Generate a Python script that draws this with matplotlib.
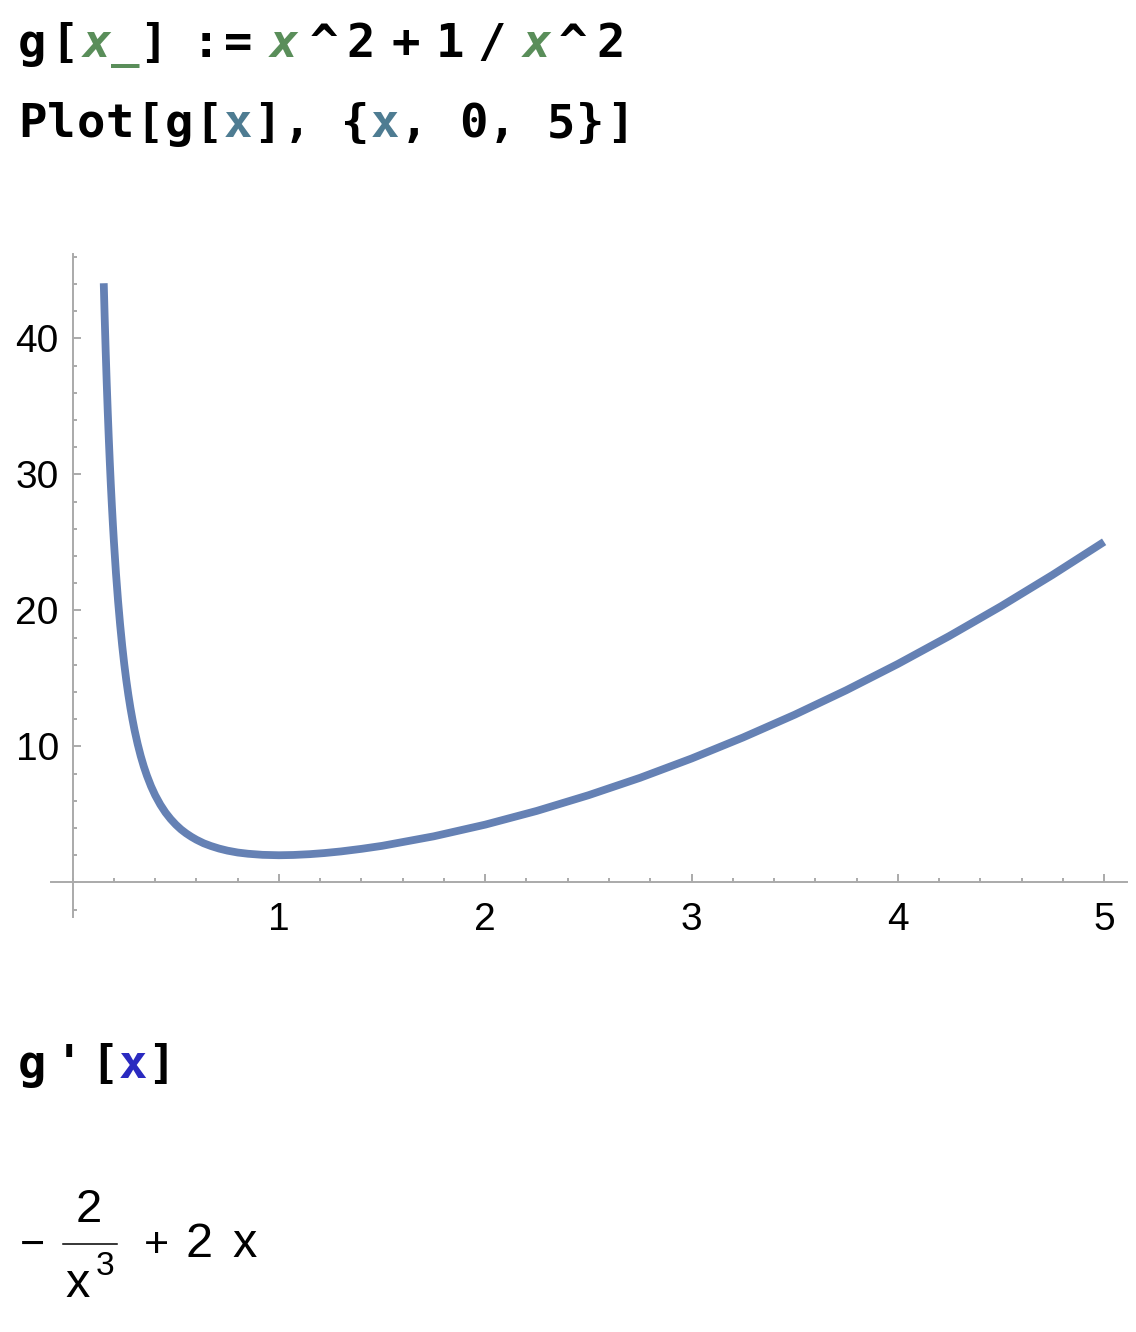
import matplotlib
matplotlib.use("Agg")
import matplotlib.pyplot as plt
from matplotlib.lines import Line2D
from matplotlib.ticker import FixedLocator

W, H = 1136, 1332

X_VALS = [0.1507, 0.155, 0.16, 0.165, 0.17, 0.175, 0.18, 0.185, 0.19, 0.195,
          0.20, 0.21, 0.22, 0.23, 0.24, 0.25, 0.26, 0.27, 0.28, 0.29,
          0.30, 0.315, 0.33, 0.345, 0.36, 0.38, 0.40, 0.425, 0.45, 0.475,
          0.50, 0.525, 0.55, 0.575, 0.60, 0.635, 0.67, 0.71, 0.75, 0.80,
          0.85, 0.92, 1.00, 1.07, 1.15, 1.22, 1.30, 1.40, 1.50, 1.75,
          2.00, 2.25, 2.50, 2.75, 3.00, 3.25, 3.50, 3.75, 4.00, 4.25,
          4.50, 4.75, 5.00]
Y_VALS = [44.05, 41.65, 39.09, 36.76, 34.63, 32.68, 30.90, 29.25, 27.74, 26.34,
          25.04, 22.72, 20.71, 18.96, 17.42, 16.06, 14.86, 13.79, 12.83, 11.98,
          11.20, 10.18, 9.29, 8.52, 7.85, 7.07, 6.41, 5.72, 5.14, 4.66,
          4.25, 3.90, 3.61, 3.36, 3.14, 2.88, 2.68, 2.49, 2.34, 2.20,
          2.11, 2.03, 2.00, 2.02, 2.08, 2.16, 2.28, 2.47, 2.69, 3.39,
          4.25, 5.26, 6.41, 7.69, 9.11, 10.66, 12.33, 14.13, 16.06, 18.12,
          20.30, 22.61, 25.04]
X_TICKS = [1, 2, 3, 4, 5]
Y_TICKS = [10, 20, 30, 40]
X_MINOR = [i / 5 for i in range(26)]
Y_MINOR = list(range(-2, 47, 2))

CURVE = "#6581b4"
AXIS = "#aaaaaa"
GREEN = "#5a8e5a"
TEAL = "#4e7c92"
BLUE = "#2a2ac0"
MONO = "DejaVu Sans Mono"

# notebook input lines: (glyph, centre x px, colour, italic)
LINE1 = [("g", 32, "k", 0), ("[", 65, "k", 0), ("x", 97, GREEN, 1), ("_", 125, GREEN, 0),
         ("]", 153, "k", 0), (":", 206, "k", 0), ("=", 238, "k", 0), ("x", 284, GREEN, 1),
         ("^", 324, "k", 0), ("2", 361, "k", 0), ("+", 406, "k", 0), ("1", 450, "k", 0),
         ("/", 492, "k", 0), ("x", 537, GREEN, 1), ("^", 573, "k", 0), ("2", 611, "k", 0)]
LINE2 = "Plot[g[x], {x, 0, 5}]"
LINE2_COLORS = {7: TEAL, 12: TEAL}
LINE3 = [("g", 32, "k", 0), ("'", 69, "k", 0), ("[", 105, "k", 0), ("x", 133, BLUE, 0),
         ("]", 161, "k", 0)]

plt.rcParams["font.family"] = ["Liberation Sans", "DejaVu Sans"]

fig = plt.figure(figsize=(W / 100, H / 100), dpi=100)


def px(x, y):
    return x / W, 1 - y / H


def glyph(ch, cx, base, col="k", it=0):
    fig.text(*px(cx, base), ch, color=col, fontsize=34, family=MONO,
             fontweight="bold", style="italic" if it else "normal",
             ha="center", va="baseline")


for ch, cx, col, it in LINE1:
    glyph(ch, cx, 57, col, it)
for i, ch in enumerate(LINE2):
    if ch != " ":
        glyph(ch, 32 + i * 29.4, 137, LINE2_COLORS.get(i, "k"))
for ch, cx, col, it in LINE3:
    glyph(ch, cx, 1078, col, it)

ax = fig.add_axes([51 / W, 1 - 917 / H, (1127 - 51) / W, (917 - 254) / H])
ax.plot(X_VALS, Y_VALS, color=CURVE, lw=5.6, solid_capstyle="butt", solid_joinstyle="round")
ax.set_xlim(-0.105, 5.111)
ax.set_ylim(-2.54, 46.2)
for s in ["top", "right"]:
    ax.spines[s].set_visible(False)
for s in ["left", "bottom"]:
    ax.spines[s].set_position(("data", 0))
    ax.spines[s].set_color(AXIS)
    ax.spines[s].set_linewidth(1.4)
ax.xaxis.set_major_locator(FixedLocator(X_TICKS))
ax.yaxis.set_major_locator(FixedLocator(Y_TICKS))
ax.xaxis.set_minor_locator(FixedLocator(X_MINOR))
ax.yaxis.set_minor_locator(FixedLocator(Y_MINOR))
ax.tick_params(which="both", direction="in", color=AXIS, width=1.4, labelsize=28)
ax.tick_params(which="major", length=5.8)
ax.tick_params(which="minor", length=2.9)
ax.tick_params(axis="x", pad=14)
ax.tick_params(axis="y", pad=10)
ax.patch.set_visible(False)

# output cell: -2/x^3 + 2 x
fig.text(*px(32, 1257), "\u2212", fontsize=31, ha="center", va="baseline")
fig.text(*px(89, 1222), "2", fontsize=34, ha="center", va="baseline")
fig.add_artist(Line2D([63 / W, 117 / W], [1 - 1244 / H] * 2, color="k", lw=1.1,
                      transform=fig.transFigure))
fig.text(*px(78, 1297), "x", fontsize=35, ha="center", va="baseline")
fig.text(*px(105, 1275), "3", fontsize=24, ha="center", va="baseline")
fig.text(*px(156, 1257), "+", fontsize=31, ha="center", va="baseline")
fig.text(*px(199.5, 1257), "2", fontsize=35, ha="center", va="baseline")
fig.text(*px(244.5, 1257), "x", fontsize=35, ha="center", va="baseline")

fig.savefig("out.png", dpi=100)
